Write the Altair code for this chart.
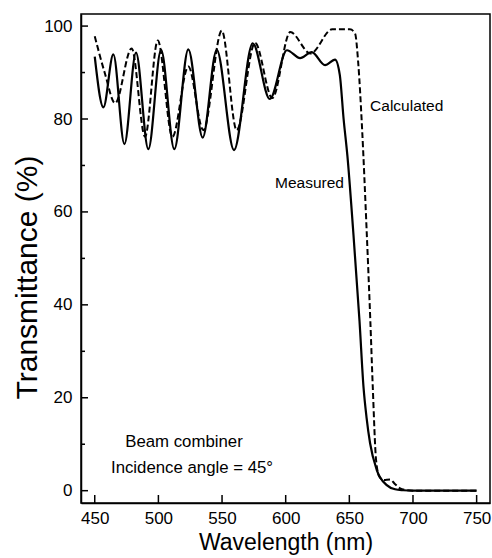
import altair as alt
import pandas as pd

# Measured curve (solid)
meas_wl = [450, 456.8, 464.6, 473.3, 482.4, 492.1, 502.1, 512.5, 523.5, 534.8, 545.8,
           559.4, 574.1, 587.5, 601.0, 611.3, 620.5, 630.9, 638.8, 642.5, 645.5, 648.5,
           653.0, 658.0, 661.1, 663.5, 666.3, 671.5, 679.4, 686.0, 692.4, 700, 750]
meas_T = [93.4, 82.5, 93.9, 74.6, 94.3, 73.5, 94.9, 73.5, 95.0, 76.0, 94.9,
          73.3, 96.3, 84.3, 94.8, 93.1, 94.4, 91.6, 92.8, 89.5, 80.0, 72.0,
          56.0, 36.5, 22.4, 15.8, 10.2, 4.5, 1.2, 0.3, 0.1, 0.0, 0.0]

# Calculated curve (dashed)
calc_wl = [450, 458, 466, 479, 489.5, 499.5, 511, 523.5, 535.3, 549.8, 561.5,
           575.9, 589.5, 603.6, 619.5, 636.5, 650.5, 654.5, 657.0, 660.0, 663.5,
           666.5, 668.4, 671.0, 673.6, 677.0, 682.0, 686.0, 689.8, 695, 700, 750]
calc_T = [97.8, 89.8, 83.4, 95.2, 76.2, 96.9, 76.2, 91.3, 77.6, 99.0, 77.6,
          96.4, 84.5, 98.7, 94.1, 99.3, 99.3, 98.4, 92.0, 78.0, 56.6,
          36.5, 22.4, 6.6, 3.0, 2.3, 2.4, 1.4, 0.5, 0.1, 0.0, 0.0]

x_ticks = [450, 500, 550, 600, 650, 700, 750]
y_major = [0, 20, 40, 60, 80, 100]
y_minor = [10, 30, 50, 70, 90]

ann_text = ["Calculated", "Measured", "Beam combiner", "Incidence angle = 45\u00b0"]
ann_x = [666.3, 645.8, 520.1, 526.4]
ann_y = [82.8, 66.2, 10.5, 4.8]
ann_align = ["left", "right", "center", "center"]

FONT = "Liberation Sans"
W, H = 409, 489

xs = alt.Scale(domain=[439.2, 760.5], nice=False, zero=False)
ys = alt.Scale(domain=[-2.65, 102.6], nice=False, zero=False)

df_m = pd.DataFrame({"wl": meas_wl, "T": meas_T})
df_c = pd.DataFrame({"wl": calc_wl, "T": calc_T})

xaxis = alt.Axis(values=x_ticks, ticks=False, grid=False, labelPadding=7,
                 labelFontSize=17, labelFont=FONT, labelColor="black",
                 domainColor="black", domainWidth=1.5,
                 title="Wavelength (nm)", titleFont=FONT, titleFontSize=23,
                 titleFontWeight="normal", titleColor="black", titlePadding=5)
yaxis = alt.Axis(values=y_major, ticks=False, grid=False, labelPadding=9,
                 labelFontSize=17, labelFont=FONT, labelColor="black",
                 domainColor="black", domainWidth=1.5,
                 title="Transmittance (%)", titleFont=FONT, titleFontSize=30,
                 titleFontWeight="normal", titleColor="black", titlePadding=1,
                 titleY=263)

meas = alt.Chart(df_m).mark_line(color="black", strokeWidth=2.2, interpolate="monotone").encode(
    x=alt.X("wl:Q", scale=xs, axis=xaxis),
    y=alt.Y("T:Q", scale=ys, axis=yaxis),
)
calc = alt.Chart(df_c).mark_line(color="black", strokeWidth=2.0, strokeDash=[6, 3],
                                  interpolate="monotone").encode(
    x=alt.X("wl:Q", scale=xs),
    y=alt.Y("T:Q", scale=ys),
)

xt = alt.Chart(pd.DataFrame({"v": x_ticks})).mark_rule(color="black", strokeWidth=1.5).encode(
    x=alt.X("v:Q", scale=xs), y=alt.value(H), y2=alt.value(H - 8))
ytm = alt.Chart(pd.DataFrame({"v": y_major})).mark_rule(color="black", strokeWidth=1.5).encode(
    y=alt.Y("v:Q", scale=ys), x=alt.value(0), x2=alt.value(7))
ytn = alt.Chart(pd.DataFrame({"v": y_minor})).mark_rule(color="black", strokeWidth=1.5).encode(
    y=alt.Y("v:Q", scale=ys), x=alt.value(0), x2=alt.value(4))

df_a = pd.DataFrame({"t": ann_text, "x": ann_x, "y": ann_y, "a": ann_align})
texts = []
for al in ["left", "right", "center"]:
    texts.append(
        alt.Chart(df_a[df_a["a"] == al]).mark_text(
            align=al, baseline="middle", font=FONT, fontSize=16.8 if al == "center" else 15.5,
            color="black").encode(
            x=alt.X("x:Q", scale=xs), y=alt.Y("y:Q", scale=ys), text="t:N")
    )

chart = alt.layer(meas, calc, xt, ytm, ytn, *texts).properties(
    width=W, height=H,
    autosize=alt.AutoSizeParams(type="none"),
    padding={"left": 81, "top": 14, "right": 2, "bottom": 55},
    background="white",
).configure_view(stroke="black", strokeWidth=1.5)

chart.save("out.html", embed_options={"renderer": "svg", "actions": False})
